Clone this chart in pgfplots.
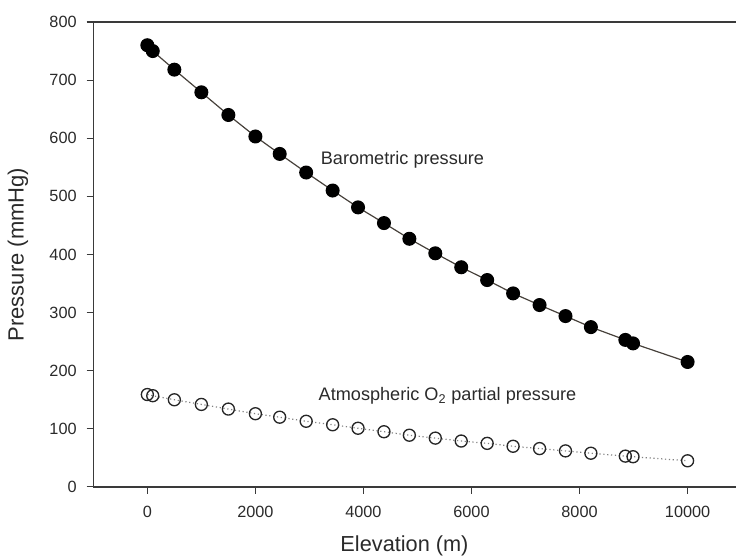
\documentclass[border=0pt]{standalone}
\usepackage{pgfplots}
\pgfplotsset{compat=1.18}
\usepackage{pgfplotstable}
\usetikzlibrary{calc}
\usepackage{fontspec}
\setmainfont{Liberation Sans}
\definecolor{axgray}{HTML}{3A3A3A}
\definecolor{lbl}{HTML}{2A2A2A}
\pgfplotstableread{
x P O2
0 760 159
100 750 157
500 718 150
1000 679 142
1500 640 134
2000 603 126
2450 573 120
2940 541 113
3430 510 107
3900 481 101
4380 454 95
4850 427 89
5330 402 84
5810 378 79
6290 356 75
6770 333 70
7260 313 66
7740 294 62
8210 275 58
8848 253 53
8990 247 52
10000 215 45
}\data
\begin{document}
\begin{tikzpicture}
\begin{axis}[
  scale only axis, width=482.2pt, height=348.75pt,
  xmin=-1000, xmax=10900, ymin=0, ymax=800,
  axis x line=box, axis y line=left,
  axis line style={axgray, line width=1pt, -},
  xtick={0,2000,4000,6000,8000,10000},
  ytick={0,100,200,300,400,500,600,700,800},
  xtick pos=left, ytick pos=left,
  tick align=outside, major tick length=5pt,
  tick style={axgray, line width=0.8pt},
  minor tick num=0,
  scaled x ticks=false,
  /pgf/number format/assume math mode=true,
  /pgf/number format/set thousands separator={},
  ticklabel style={font=\fontsize{12.2}{14}\selectfont, text=lbl},
  xticklabel style={yshift=-6pt},
  yticklabel style={xshift=-4pt},
  xlabel={Elevation (m)}, ylabel={Pressure (mmHg)},
  every axis x label/.style={at={(axis cs:4760,0)}, anchor=center, yshift=-44.25pt, font=\fontsize{16.3}{18}\selectfont, text=lbl},
  every axis y label/.style={at={(rel axis cs:0,0.5)}, anchor=center, xshift=-56.5pt, rotate=90, font=\fontsize{16.5}{18}\selectfont, text=lbl},
  clip=false,
]
\addplot[color=axgray!90!brown, line width=0.9pt, mark=*, mark size=4.8pt, mark options={black, fill=black, solid}] table[x=x, y=P] {\data};
\addplot[color=gray, line width=0.9pt, dotted, mark=o, mark size=4.5pt, mark options={black!85, line width=1pt, solid, fill=white}] table[x=x, y=O2] {\data};
\node[font=\fontsize{13.6}{15}\selectfont, text=lbl] at (axis cs:4722,563) {Barometric pressure};
\node[font=\fontsize{13.6}{15}\selectfont, text=lbl] at (axis cs:5556,157) {Atmospheric O\textsubscript{2} partial pressure};
\coordinate (bl) at (rel axis cs:0,0);
\coordinate (tr) at (rel axis cs:1,1);
\end{axis}
\pgfresetboundingbox
\path ($(bl)+(-70pt,-54.75pt)$) rectangle ($(tr)+(0.6pt,16.5pt)$);
\end{tikzpicture}
\end{document}
